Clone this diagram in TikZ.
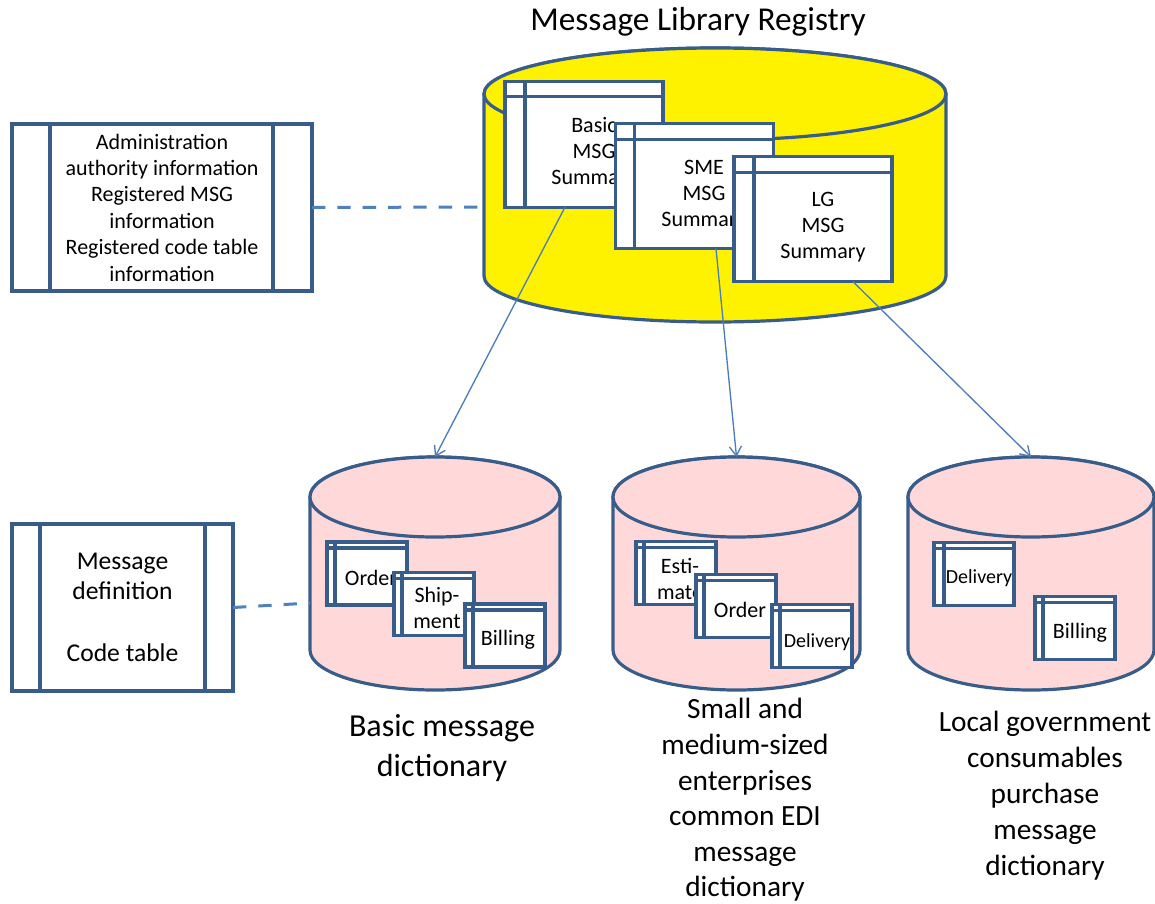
\documentclass[tikz,border=0pt]{standalone}
\usepackage{fontspec}
\setmainfont{Carlito}
\usetikzlibrary{calc,arrows.meta}
\definecolor{dblue}{RGB}{56,93,138}
\definecolor{lblue}{RGB}{74,126,187}
\definecolor{dashblue}{RGB}{79,129,189}
\definecolor{pinkfill}{RGB}{255,217,217}

\begin{document}
\begin{tikzpicture}[x=0.75pt,y=0.75pt,yscale=-1,xscale=1,
  can/.style={draw=dblue, line width=2.4pt},
  win/.style={draw=dblue, line width=2.4pt, fill=white, inner sep=0pt, outer sep=0pt, minimum width=118.5pt, minimum height=94pt},
  swin/.style={win, minimum width=60pt, minimum height=47.25pt},
  bar/.style={draw=dblue, line width=2.4pt},
  box/.style={draw=dblue, line width=2.4pt, inner sep=0pt, outer sep=0pt, align=center, minimum height=125.25pt},
  wtext/.style={inner sep=0.75pt, align=center, font=\fontsize{16.5}{19.5}\selectfont},
  link/.style={draw=lblue, line width=1pt, -{Straight Barb[length=7pt,width=9pt]}},
  dashlink/.style={draw=dashblue, line width=2.25pt, dash pattern=on 10pt off 9pt}]
\useasboundingbox (0,0) rectangle (1155,903);

%Shape: Can (registry)
\draw[can, fill=yellow] (484,94) -- (484,276) arc[start angle=180, end angle=0, x radius=231, y radius=46] -- (946,94) arc[start angle=0, end angle=-180, x radius=231, y radius=46] -- cycle;
\draw[can, fill=yellow] (715,94) ellipse [x radius=231, y radius=46];
\coordinate (reg-w) at (484,207);

%Shape: Can (basic)
\draw[can, fill=pinkfill] (310,497) -- (310,650) arc[start angle=180, end angle=0, x radius=125, y radius=40] -- (560,497) arc[start angle=0, end angle=-180, x radius=125, y radius=40] -- cycle;
\draw[can, fill=pinkfill] (435,497) ellipse [x radius=125, y radius=40];
\coordinate (basdic) at (435,457);
\coordinate (basdic-w) at (310,603);

%Shape: Can (sme)
\draw[can, fill=pinkfill] (613,497) -- (613,650) arc[start angle=180, end angle=0, x radius=123.5, y radius=40] -- (860,497) arc[start angle=0, end angle=-180, x radius=123.5, y radius=40] -- cycle;
\draw[can, fill=pinkfill] (736.5,497) ellipse [x radius=123.5, y radius=40];
\coordinate (smedic) at (736.5,457);

%Shape: Can (lg)
\draw[can, fill=pinkfill] (908,497) -- (908,650) arc[start angle=180, end angle=0, x radius=123, y radius=40] -- (1154,497) arc[start angle=0, end angle=-180, x radius=123, y radius=40] -- cycle;
\draw[can, fill=pinkfill] (1031,497) ellipse [x radius=123, y radius=40];
\coordinate (lgdic) at (1031,457);

%Shape: Windows in registry
\node[win] (bas) at (584,144.5) {};
\node[wtext] (bas-t) at (594,153) {Basic\\MSG\\Summary};
\draw[bar] ($(bas.north west)+(0,15)$) -- ($(bas.north east)+(0,15)$) ($(bas.north west)+(20,0)$) -- ($(bas.south west)+(20,0)$);
\node[win] (sme) at (694.5,186) {};
\node[wtext] (sme-t) at (704,195) {SME\\MSG\\Summary};
\draw[bar] ($(sme.north west)+(0,16)$) -- ($(sme.north east)+(0,16)$) ($(sme.north west)+(19,0)$) -- ($(sme.south west)+(19,0)$);
\node[win] (lg) at (813,219) {};
\node[wtext] (lg-t) at (823,227) {LG\\MSG\\Summary};
\draw[bar] ($(lg.north west)+(0,16)$) -- ($(lg.north east)+(0,16)$) ($(lg.north west)+(20,0)$) -- ($(lg.south west)+(20,0)$);

%Shape: Windows in basic dictionary
\node[swin] (aord) at (367,573.5) {};
\node[wtext] (aord-t) at (371,578) {Order};
\draw[bar] ($(aord.north west)+(0,6)$) -- ($(aord.north east)+(0,6)$) ($(aord.north west)+(8,0)$) -- ($(aord.south west)+(8,0)$);
\node[swin] (aship) at (434,604) {};
\node[wtext] (aship-t) at (437,608) {Ship-\\ment};
\draw[bar] ($(aship.north west)+(0,6)$) -- ($(aship.north east)+(0,6)$) ($(aship.north west)+(8,0)$) -- ($(aship.south west)+(8,0)$);
\node[swin] (abill) at (505,635.5) {};
\node[wtext] (abill-t) at (508,640) {Billing};
\draw[bar] ($(abill.north west)+(0,6)$) -- ($(abill.north east)+(0,6)$) ($(abill.north west)+(8,0)$) -- ($(abill.south west)+(8,0)$);

%Shape: Windows in sme dictionary
\node[swin] (best) at (676,573) {};
\node[wtext] (best-t) at (680,579) {Esti-\\mate};
\draw[bar] ($(best.north west)+(0,6)$) -- ($(best.north east)+(0,6)$) ($(best.north west)+(8,0)$) -- ($(best.south west)+(8,0)$);
\node[swin] (bord) at (736,606) {};
\node[wtext] (bord-t) at (740,610) {Order};
\draw[bar] ($(bord.north west)+(0,6)$) -- ($(bord.north east)+(0,6)$) ($(bord.north west)+(8,0)$) -- ($(bord.south west)+(8,0)$);
\node[swin] (bdel) at (812,636) {};
\node[wtext, font=\fontsize{15}{18}\selectfont] (bdel-t) at (817,642) {Delivery};
\draw[bar] ($(bdel.north west)+(0,6)$) -- ($(bdel.north east)+(0,6)$) ($(bdel.north west)+(8,0)$) -- ($(bdel.south west)+(8,0)$);

%Shape: Windows in lg dictionary
\node[swin] (cdel) at (974,574) {};
\node[wtext, font=\fontsize{15}{18}\selectfont] (cdel-t) at (979,578) {Delivery};
\draw[bar] ($(cdel.north west)+(0,6)$) -- ($(cdel.north east)+(0,6)$) ($(cdel.north west)+(10,0)$) -- ($(cdel.south west)+(10,0)$);
\node[swin] (cbill) at (1075,628) {};
\node[wtext] (cbill-t) at (1080,633) {Billing};
\draw[bar] ($(cbill.north west)+(0,6)$) -- ($(cbill.north east)+(0,6)$) ($(cbill.north west)+(8,0)$) -- ($(cbill.south west)+(8,0)$);

%Shape: Side boxes
\node[box, minimum width=225pt, font=\fontsize{16.5}{19.8}\selectfont] (adm) at (162,207.5) {Administration\\authority information\\Registered MSG\\information\\Registered code table\\information};
\draw[bar] ($(adm.north west)+(38,0)$) -- ($(adm.south west)+(38,0)$) ($(adm.north east)+(-39,0)$) -- ($(adm.south east)+(-39,0)$);
\node[box, minimum width=165.75pt, font=\fontsize{19.2}{22.5}\selectfont] (mdef) at (122.5,607.5) {Message\\definition\\[24pt]Code table};
\draw[bar] ($(mdef.north west)+(28,0)$) -- ($(mdef.south west)+(28,0)$) ($(mdef.north east)+(-28,0)$) -- ($(mdef.south east)+(-28,0)$);

%Straight Lines
\draw[dashlink] (adm.east) -- (reg-w);
\draw[dashlink] (mdef.east) -- (basdic-w);
\draw[link] ($(bas.south)+(-19,0)$) -- (basdic);
\draw[link] ($(sme.south)+(21.5,0)$) -- (smedic);
\draw[link] ($(lg.south)+(40,0)$) -- (lgdic);

% Text Node
\node[font=\fontsize{25}{30}\selectfont] (regtitle) at (698,22) {Message Library Registry};
% Text Node
\node[align=center, font=\fontsize{24}{30}\selectfont] (baslabel) at (442,748) {Basic message\\dictionary};
% Text Node
\node[align=center, font=\fontsize{22}{26.7}\selectfont] (smelabel) at (745,800) {Small and\\medium-sized\\enterprises\\common EDI\\message\\dictionary};
% Text Node
\node[align=center, font=\fontsize{22}{27}\selectfont] (lglabel) at (1045,796) {Local government\\consumables\\purchase\\message\\dictionary};

\end{tikzpicture}
\end{document}
